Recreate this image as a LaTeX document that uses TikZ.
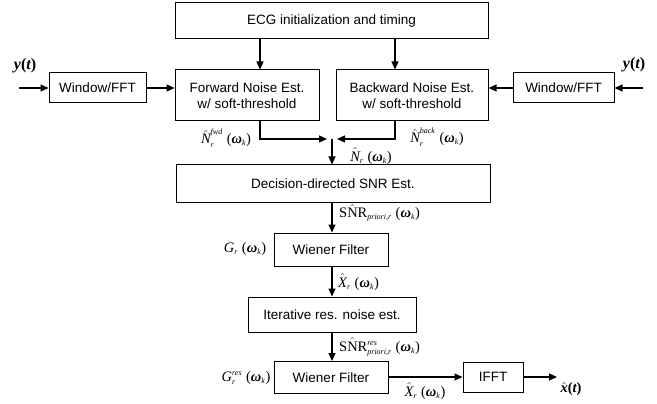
\documentclass[tikz,border=0pt]{standalone}
\usepackage{amsmath}
\usepackage{fontspec}
\setmainfont{Liberation Sans}
\newfontfamily\tms{Liberation Serif}
\usetikzlibrary{arrows.meta}
\newcommand{\sv}[1]{\text{\tms\itshape #1}}
\newcommand{\scr}[1]{\mbox{\tms\itshape\fontsize{8}{9}\selectfont #1}}
\newcommand{\sbv}[1]{\text{\tms\bfseries\itshape #1}}
\newcommand{\sr}[1]{\text{\tms #1}}
\newcommand{\wk}{\sr{\;(}\sbv{ω}_{\scr{k}}\sr{)}}
\newcommand{\yt}{{\tms\bfseries\itshape y}{\tms\bfseries(}{\tms\bfseries\itshape t}{\tms\bfseries)}}
\begin{document}
\begin{tikzpicture}[x=1pt,y=-1pt,
  blk/.style={draw,line width=1pt,inner sep=0pt,align=center,font=\fontsize{13.5}{16}\selectfont},
  lab/.style={inner sep=0pt,font=\fontsize{14.5}{16}\selectfont},
  ylab/.style={inner sep=0pt,font=\fontsize{16}{18}\selectfont},
  arr/.style={line width=1.2pt,-{Triangle[length=8pt,width=7pt]}}]
\useasboundingbox (0,0) rectangle (657,404);
% boxes
\node[blk,minimum width=313pt,minimum height=36pt] (ecg) at (331.5,21) {ECG initialization and timing};
\node[blk,minimum width=144pt,minimum height=51pt] (fwd) at (247,95.5) {Forward Noise Est.\\w/ soft-threshold};
\node[blk,minimum width=152pt,minimum height=51pt] (bwd) at (412,95.5) {Backward Noise Est.\\w/ soft-threshold};
\node[blk,minimum width=97pt,minimum height=30pt] (winL) at (97.5,88) {Window/FFT};
\node[blk,minimum width=101pt,minimum height=30pt] (winR) at (563.5,88) {Window/FFT};
\node[blk,minimum width=314pt,minimum height=37pt] (dec) at (333,183.5) {Decision-directed SNR Est.};
\node[blk,minimum width=114pt,minimum height=33pt] (wf1) at (331,249.5) {Wiener Filter};
\node[blk,minimum width=168pt,minimum height=35pt] (it) at (332,314.5) {Iterative res. noise est.};
\node[blk,minimum width=114pt,minimum height=32pt] (wf2) at (331,377.5) {Wiener Filter};
\node[blk,minimum width=60pt,minimum height=30pt] (ifft) at (493,377) {IFFT};
% helper coordinates
\coordinate (c1) at (260,0);
\coordinate (c2) at (395,0);
\coordinate (cm) at (332,0);
\coordinate (inL) at (19,88);
\coordinate (inR) at (643,88);
\coordinate (mjL) at (327,139);
\coordinate (mjR) at (337,139);
\coordinate (mjC) at (332,139);
\coordinate (out) at (557,377);
% connectors
\draw[arr] (inL) -- (winL.west);
\draw[arr] (inR) -- (winR.east);
\draw[arr] (winL.east) -- (winL.east -| fwd.west);
\draw[arr] (winR.west) -- (winR.west -| bwd.east);
\draw[arr] (ecg.south -| c1) -- (fwd.north -| c1);
\draw[arr] (ecg.south -| c2) -- (bwd.north -| c2);
\draw[arr] (fwd.south -| c1) |- (mjL);
\draw[arr] (bwd.south -| c2) |- (mjR);
\draw[arr] (mjC) -- (dec.north -| mjC);
\draw[arr] (dec.south -| cm) -- (wf1.north -| cm);
\draw[arr] (wf1.south -| cm) -- (it.north -| cm);
\draw[arr] (it.south -| cm) -- (wf2.north -| cm);
\draw[arr] (wf2.east |- out) -- (ifft.west |- out);
\draw[arr] (ifft.east |- out) -- (out);
% labels
\node[ylab] (ylab) at (25,66) {\yt};
\node[ylab] (yrlab) at (634,65) {\yt};
\node[lab] (nfwd) at (226,138) {$\hat{\sv{N}}^{\scr{fwd}}_{\scr{r}}\wk$};
\node[lab] (nbck) at (437,137) {$\hat{\sv{N}}^{\scr{back}}_{\scr{r}}\wk$};
\node[lab] (nr) at (371,156) {$\hat{\sv{N}}_{\scr{r}}\wk$};
\node[lab,anchor=west] (snr1) at (339,213) {$\sr{S}\hat{\sr{N}}\sr{R}_{\scr{priori,r}}\wk$};
\node[lab] (gr) at (245,249) {$\sv{G}_{\scr{r}}\wk$};
\node[lab,anchor=west] (xr1) at (338,282) {$\hat{\sv{X}}_{\scr{r}}\wk$};
\node[lab,anchor=west] (snr2) at (339,347) {$\sr{S}\hat{\sr{N}}\sr{R}^{\scr{res}}_{\scr{priori,r}}\wk$};
\node[lab] (grr) at (246,378) {$\sv{G}^{\scr{res}}_{\scr{r}}\wk$};
\node[lab] (xr2) at (425,391) {$\hat{\sv{X}}_{\scr{r}}\wk$};
\node[lab] (xt) at (571,389) {$\hat{\sbv{x}}$\text{\tms\bfseries(}\sbv{t}\text{\tms\bfseries)}};
\end{tikzpicture}
\end{document}
